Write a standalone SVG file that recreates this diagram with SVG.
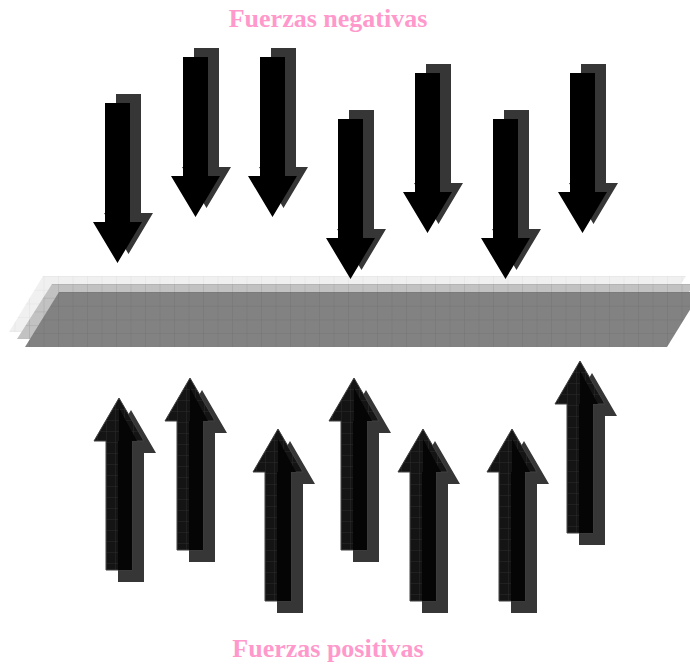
<svg xmlns="http://www.w3.org/2000/svg" width="690" height="666" viewBox="0 0 690 666">
<style>
.title{font-family:"Liberation Serif","Times New Roman",serif;font-weight:bold;font-size:26px;fill:#ff99cc;text-anchor:middle}
.dshadow{fill:#363636}
.dblack{fill:#000}
.ushadow{fill:#363636}
.ubody{fill:url(#ugrid);stroke:#404040;stroke-width:1}
.ucore{fill:#050505}
</style>
<defs>
<pattern id="gLight" patternUnits="userSpaceOnUse" width="14.5" height="13.7" x="0" y="276">
<rect width="14.5" height="13.7" fill="#f0f0f0"/>
<path d="M0,0V13.7M0,0H14.5" stroke="#e2e2e2" stroke-width="1" fill="none"/>
</pattern>
<pattern id="gMid" patternUnits="userSpaceOnUse" width="14.5" height="13.7" x="0" y="284">
<rect width="14.5" height="13.7" fill="#c2c2c2"/>
<path d="M0,0V13.7M0,0H14.5" stroke="#a6a6a6" stroke-width="1" fill="none"/>
</pattern>
<pattern id="gDark" patternUnits="userSpaceOnUse" width="14.5" height="13.7" x="0" y="292">
<rect width="14.5" height="13.7" fill="#828282"/>
<path d="M0,0V13.7M0,0H14.5" stroke="#747474" stroke-width="1" fill="none"/>
</pattern>
<pattern id="ugrid" patternUnits="userSpaceOnUse" width="9" height="11">
<rect width="9" height="11" fill="#141414"/>
<path d="M0,0V11M0,0H9" stroke="#2c2c2c" stroke-width="1" fill="none"/>
</pattern>
<path id="down" d="M0,0H25V119H37L12.5,160L-12,119H0Z"/>
<path id="up" d="M13,0L38,43H26V172H0V43H-12Z"/>
<path id="upcore" d="M13,10L31,43H26V172H12V43H13Z"/>
</defs>

<g id="plate">
<polygon points="43,276 686,276 652,332 9,332" fill="url(#gLight)"/>
<polygon points="52,284 694,284 660,339 17,339" fill="url(#gMid)"/>
<polygon points="59,292 701,292 667,347 25,347" fill="url(#gDark)"/>
</g>

<g id="neg-arrows">
<g id="d1" transform="translate(105,103)"><use href="#down" class="dshadow" x="11" y="-9"/><use href="#down" class="dblack"/></g>
<g id="d2" transform="translate(183,57)"><use href="#down" class="dshadow" x="11" y="-9"/><use href="#down" class="dblack"/></g>
<g id="d3" transform="translate(260,57)"><use href="#down" class="dshadow" x="11" y="-9"/><use href="#down" class="dblack"/></g>
<g id="d4" transform="translate(338,119)"><use href="#down" class="dshadow" x="11" y="-9"/><use href="#down" class="dblack"/></g>
<g id="d5" transform="translate(415,73)"><use href="#down" class="dshadow" x="11" y="-9"/><use href="#down" class="dblack"/></g>
<g id="d6" transform="translate(493,119)"><use href="#down" class="dshadow" x="11" y="-9"/><use href="#down" class="dblack"/></g>
<g id="d7" transform="translate(570,73)"><use href="#down" class="dshadow" x="11" y="-9"/><use href="#down" class="dblack"/></g>
</g>

<g id="pos-arrows">
<g id="u1" transform="translate(106,398)"><use href="#up" class="ushadow" x="12" y="12"/><use href="#up" class="ubody"/><use href="#upcore" class="ucore"/></g>
<g id="u2" transform="translate(177,378)"><use href="#up" class="ushadow" x="12" y="12"/><use href="#up" class="ubody"/><use href="#upcore" class="ucore"/></g>
<g id="u3" transform="translate(265,429)"><use href="#up" class="ushadow" x="12" y="12"/><use href="#up" class="ubody"/><use href="#upcore" class="ucore"/></g>
<g id="u4" transform="translate(341,378)"><use href="#up" class="ushadow" x="12" y="12"/><use href="#up" class="ubody"/><use href="#upcore" class="ucore"/></g>
<g id="u5" transform="translate(410,429)"><use href="#up" class="ushadow" x="12" y="12"/><use href="#up" class="ubody"/><use href="#upcore" class="ucore"/></g>
<g id="u6" transform="translate(499,429)"><use href="#up" class="ushadow" x="12" y="12"/><use href="#up" class="ubody"/><use href="#upcore" class="ucore"/></g>
<g id="u7" transform="translate(567,361)"><use href="#up" class="ushadow" x="12" y="12"/><use href="#up" class="ubody"/><use href="#upcore" class="ucore"/></g>
</g>

<g id="labels">
<text class="title" x="328" y="27">Fuerzas negativas</text>
<text class="title" x="328" y="657">Fuerzas positivas</text>
</g>
</svg>
